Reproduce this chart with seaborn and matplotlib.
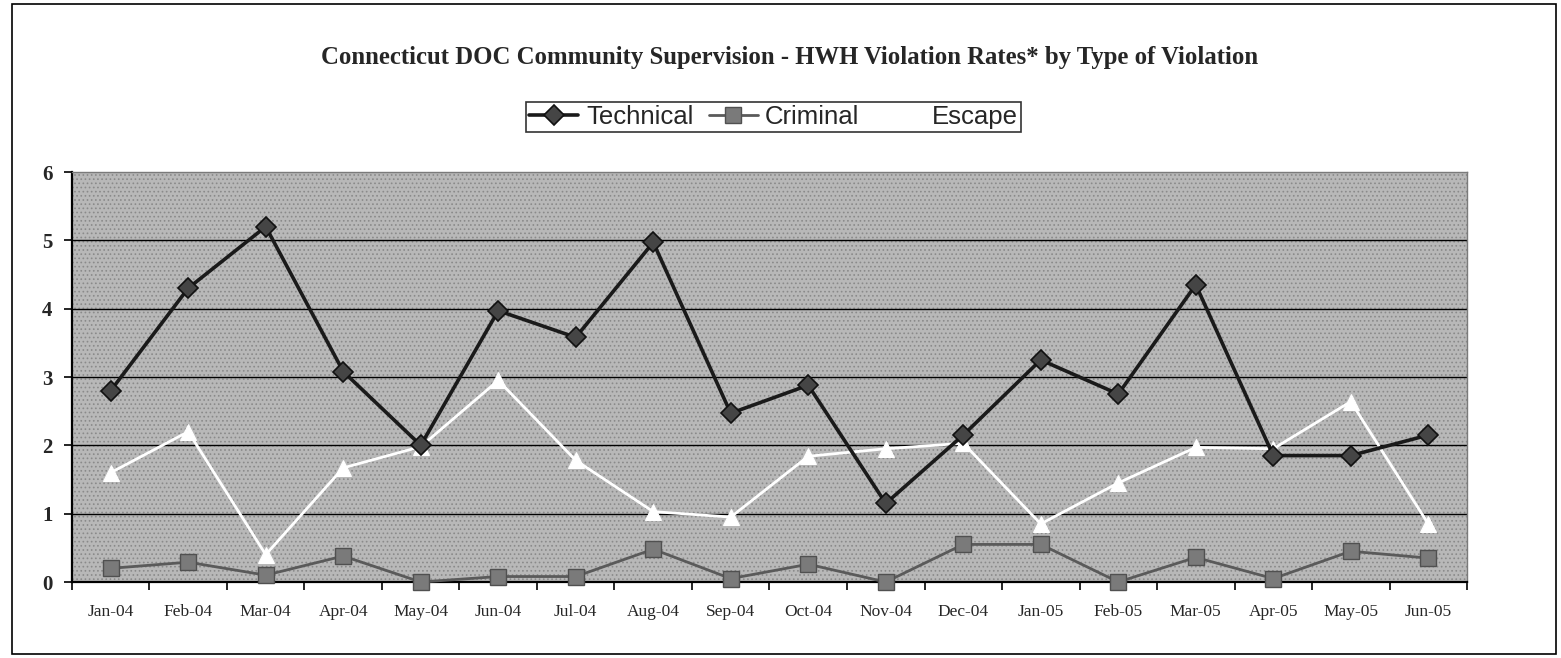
import matplotlib

matplotlib.use("Agg")

import matplotlib.pyplot as plt
import matplotlib.patches as mpatches
import pandas as pd
import seaborn as sns

months = ["Jan-04", "Feb-04", "Mar-04", "Apr-04", "May-04", "Jun-04", "Jul-04",
          "Aug-04", "Sep-04", "Oct-04", "Nov-04", "Dec-04", "Jan-05", "Feb-05",
          "Mar-05", "Apr-05", "May-05", "Jun-05"]
technical = [2.8, 4.3, 5.2, 3.08, 2.0, 3.97, 3.58, 4.97, 2.47, 2.88, 1.15, 2.15,
             3.25, 2.75, 4.35, 1.85, 1.85, 2.15]
criminal = [0.2, 0.29, 0.1, 0.38, 0.0, 0.08, 0.08, 0.48, 0.05, 0.26, 0.0, 0.55,
            0.55, 0.0, 0.36, 0.05, 0.45, 0.35]
escape = [1.6, 2.2, 0.4, 1.67, 1.98, 2.95, 1.78, 1.03, 0.95, 1.84, 1.95, 2.03,
          0.85, 1.45, 1.97, 1.95, 2.64, 0.85]

df = pd.DataFrame({"month": months, "x": range(len(months)),
                   "Technical": technical, "Criminal": criminal, "Escape": escape})

sns.set_style("white")
plt.rcParams["font.family"] = ["Liberation Serif", "DejaVu Serif"]
plt.rcParams["hatch.linewidth"] = 0.7

fig = plt.figure(figsize=(15.61, 6.58), dpi=100)
ax = fig.add_axes([0.0461, 0.1155, 0.8937, 0.6231])

# dotted grey plot background
ax.set_facecolor("#b8b8b8")
ax.add_patch(mpatches.Rectangle((0, 0), 1, 1, transform=ax.transAxes,
                                facecolor="#b8b8b8", edgecolor="#8a8a8a",
                                hatch="....", lw=0, zorder=0))

for yv in range(1, 6):
    ax.axhline(yv, color="black", lw=1.0, zorder=1)

sns.lineplot(data=df, x="x", y="Technical", ax=ax, color="#1a1a1a", lw=2.6,
             marker="D", markersize=10, markerfacecolor="#454545",
             markeredgecolor="#111111", markeredgewidth=1.2, label="Technical",
             clip_on=False, zorder=4)
sns.lineplot(data=df, x="x", y="Criminal", ax=ax, color="#5a5a5a", lw=2.0,
             marker="s", markersize=11, markerfacecolor="#7a7a7a",
             markeredgecolor="#505050", markeredgewidth=1.0, label="Criminal",
             clip_on=False, zorder=3)
sns.lineplot(data=df, x="x", y="Escape", ax=ax, color="white", lw=2.0,
             marker="^", markersize=11, markerfacecolor="white",
             markeredgecolor="white", label="Escape", clip_on=False, zorder=3)

ax.set_xlim(-0.5, len(months) - 0.5)
ax.set_ylim(0, 6)
ax.set_xlabel("")
ax.set_ylabel("")

ax.set_xticks(range(len(months)))
ax.set_xticklabels(months, fontsize=12.5)
ax.set_xticks([i - 0.5 for i in range(len(months) + 1)], minor=True)
ax.tick_params(axis="x", which="major", length=0, pad=16)
ax.tick_params(axis="x", which="minor", length=6, width=1.2, color="black",
               direction="out", bottom=True)
ax.set_yticks(range(0, 7))
ax.set_yticklabels([str(v) for v in range(0, 7)], fontsize=15, fontweight="bold")
ax.tick_params(axis="y", length=6, width=1.2, color="black", direction="out",
               left=True, pad=8)

for side in ["left", "bottom"]:
    ax.spines[side].set_color("black")
    ax.spines[side].set_linewidth(1.6)
for side in ["top", "right"]:
    ax.spines[side].set_color("#7a7a7a")
    ax.spines[side].set_linewidth(1.0)

fig.text(0.506, 0.913,
         "Connecticut DOC Community Supervision - HWH Violation Rates* by Type of Violation",
         ha="center", va="center", fontsize=17.8, fontweight="bold")

handles, labels = ax.get_legend_handles_labels()
ax.legend_.remove()
leg = fig.legend(handles, labels, loc="center", bbox_to_anchor=(0.4955, 0.822),
                 ncol=3, frameon=True, fancybox=False, edgecolor="black",
                 prop={"family": "Liberation Sans", "size": 18.5},
                 handlelength=1.9, columnspacing=0.6, handletextpad=0.3,
                 borderpad=0.12, borderaxespad=0)
leg.get_frame().set_linewidth(1.2)

border = mpatches.Rectangle((12 / 1561, 4 / 658), 1544 / 1561, 650 / 658,
                            transform=fig.transFigure, fill=False,
                            edgecolor="black", lw=1.2)
fig.patches.append(border)

fig.savefig("out.png", dpi=100)
plt.close(fig)
